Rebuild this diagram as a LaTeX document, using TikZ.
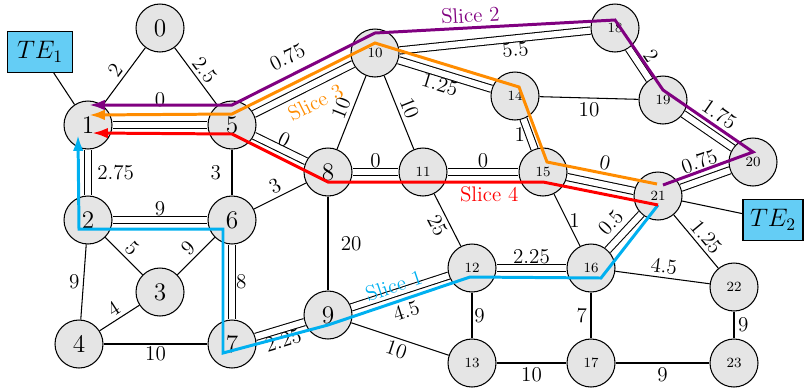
\documentclass[tikz,border=0pt]{standalone}
\usepackage{amsmath}
\usepackage{tikz}
\usetikzlibrary{arrows.meta,calc}
\usepackage{xcolor}

\definecolor{teblue}{RGB}{100,205,245}
\definecolor{sliceone}{RGB}{0,176,240}
\definecolor{slicetwo}{RGB}{128,0,128}
\definecolor{slicethree}{RGB}{255,140,0}
\definecolor{slicefour}{RGB}{255,0,0}

\begin{document}
\begin{tikzpicture}[x=0.02cm, y=-0.02cm,
    vtx/.style={circle, draw, line width=0.6pt, fill=gray!20, minimum size=0.96cm, inner sep=0pt, font=\Large},
    svtx/.style={vtx, font=\footnotesize},
    tebox/.style={draw, line width=0.6pt, fill=teblue, minimum width=1.3cm, minimum height=0.82cm, font=\Large},
    link/.style={line width=0.6pt},
    used/.style={line width=0.6pt, double, double distance=3.5pt},
    wt/.style={font=\large, inner sep=2pt},
    slice/.style={line width=1.7pt, -{Latex[length=9pt,width=6pt]}}]

    \useasboundingbox (0,0) rectangle (804,390);

    % Vertices
    \node[vtx] (v0) at (160,28) {0};
    \node[vtx] (v1) at (88,125) {1};
    \node[vtx] (v2) at (88,220) {2};
    \node[vtx] (v3) at (160,292) {3};
    \node[vtx] (v4) at (79,344) {4};
    \node[vtx] (v5) at (232,125) {5};
    \node[vtx] (v6) at (232,220) {6};
    \node[vtx] (v7) at (232,344) {7};
    \node[vtx] (v8) at (328,172) {8};
    \node[vtx] (v9) at (328,315) {9};
    \node[svtx] (v10) at (375,53) {10};
    \node[svtx] (v11) at (423,172) {11};
    \node[svtx] (v12) at (472,268) {12};
    \node[svtx] (v13) at (472,363) {13};
    \node[svtx] (v14) at (515,96) {14};
    \node[svtx] (v15) at (543,172) {15};
    \node[svtx] (v16) at (591,268) {16};
    \node[svtx] (v17) at (591,363) {17};
    \node[svtx] (v18) at (615,28) {18};
    \node[svtx] (v19) at (663,100) {19};
    \node[svtx] (v20) at (753,162) {20};
    \node[svtx] (v21) at (658,196) {21};
    \node[svtx] (v22) at (734,287) {22};
    \node[svtx] (v23) at (734,363) {23};

    % Terminal endpoints
    \node[tebox] (te1) at (40,52) {$TE_1$};
    \node[tebox, minimum width=1.2cm] (te2) at (773,220) {$TE_2$};
    \draw[link] (te1) -- (v1);
    \draw[link] (te2) -- (v21);

    % Links (left part)
    \draw[link] (v1) -- node[wt, sloped, above] {2} (v0);
    \draw[link] (v0) -- node[wt, sloped, above] {2.5} (v5);
    \draw[used] (v1) -- node[wt, above=8pt] {0} (v5);
    \draw[used] (v1) -- node[wt, right=3pt] {2.75} (v2);
    \draw[link] (v5) -- node[wt, left=4pt] {3} (v6);
    \draw[used] (v2) -- node[wt, above] {9} (v6);
    \draw[link] (v2) -- node[wt, sloped, above] {5} (v3);
    \draw[link] (v3) -- node[wt, sloped, above] {9} (v6);
    \draw[link] (v2) -- node[wt, left] {9} (v4);
    \draw[link] (v4) -- node[wt, sloped, above] {4} (v3);
    \draw[link] (v4) -- node[wt, below, inner sep=1pt] {10} (v7);
    \draw[used] (v6) -- node[wt, right] {8} (v7);
    \draw[link] (v6) -- node[wt, sloped, above] {3} (v8);
    \draw[used] (v7) -- node[wt, sloped, below] {2.25} (v9);

    % Links (middle part)
    \draw[used] (v5) -- node[wt, sloped, above=14pt] {0.75} (v10);
    \draw[used] (v5) -- node[wt, sloped, above, inner sep=1pt] {0} (v8);
    \draw[link] (v8) -- node[wt, sloped, above] {10} (v10);
    \draw[link] (v10) -- node[wt, sloped, above] {10} (v11);
    \draw[used] (v8) -- node[wt, above] {0} (v11);
    \draw[link] (v8) -- node[wt, right=5pt] {20} (v9);
    \draw[used] (v10) -- node[wt, sloped, below, pos=0.48] {1.25} (v14);
    \draw[used] (v10) -- node[wt, sloped, below, pos=0.6] {5.5} (v18);
    \draw[used] (v11) -- node[wt, above] {0} (v15);
    \draw[link] (v11) -- node[wt, sloped, below] {25} (v12);
    \draw[used] (v9) -- node[wt, sloped, below=5pt] {4.5} (v12);
    \draw[link] (v9) -- node[wt, sloped, below] {10} (v13);
    \draw[link] (v12) -- node[wt, right, inner sep=1pt] {9} (v13);
    \draw[used] (v12) -- node[wt, above] {2.25} (v16);
    \draw[link] (v13) -- node[wt, below] {10} (v17);

    % Links (right part)
    \draw[used] (v14) -- node[wt, left] {1} (v15);
    \draw[link] (v14) -- node[wt, below] {10} (v19);
    \draw[used] (v15) -- node[wt, sloped, above=6pt] {0} (v21);
    \draw[link] (v15) -- node[wt, right, inner sep=1pt] {1} (v16);
    \draw[used] (v18) -- node[wt, sloped, above=2pt] {2} (v19);
    \draw[used] (v19) -- node[wt, sloped, above=5pt] {1.75} (v20);
    \draw[used] (v21) -- node[wt, sloped, above=4pt] {0.75} (v20);
    \draw[used] (v16) -- node[wt, sloped, above=3pt, pos=0.45] {0.5} (v21);
    \draw[link] (v21) -- node[wt, sloped, above, pos=0.55] {1.25} (v22);
    \draw[link] (v16) -- node[wt, sloped, above] {4.5} (v22);
    \draw[link] (v16) -- node[wt, left] {7} (v17);
    \draw[link] (v22) -- node[wt, right] {9} (v23);
    \draw[link] (v17) -- node[wt, below] {9} (v23);

    % Slices from TE2 back to TE1
    \draw[slice, sliceone] ($(v21)+(0,9)$) -- ($(v16)+(10,10)$) -- ($(v12)+(-2,9)$)
        -- node[wt, sloped, above=2pt, text=sliceone] {Slice 1} ($(v9)+(0,10)$)
        -- ($(v7)+(-9,9)$) -- ($(v6)+(-9,9)$) -- ($(v2)+(-9,9)$) -- ($(v1)+(-10,10)$);
    \draw[slice, slicetwo] ($(v21)+(5,-11)$) -- ($(v20)+(0,-10)$) -- ($(v19)+(0,-10)$) -- ($(v18)+(0,-8)$)
        -- node[wt, sloped, above, pos=0.6, text=slicetwo] {Slice 2} ($(v10)+(0,-20)$)
        -- ($(v5)+(0,-20)$) -- ($(v1)+(1,-20)$);
    \draw[slice, slicethree] ($(v21)+(-1,-12)$) -- ($(v15)+(4,-10)$) -- ($(v14)+(4,-9)$) -- ($(v10)+(0,-10)$)
        -- node[wt, sloped, below=8pt, text=slicethree] {Slice 3} ($(v5)+(0,-11)$)
        -- ($(v1)+(1,-10)$);
    \draw[slice, slicefour] ($(v21)+(0,9)$) -- ($(v15)+(0,10)$)
        -- node[wt, below, pos=0.25, text=slicefour] {Slice 4} ($(v8)+(0,10)$)
        -- ($(v5)+(0,9)$) -- ($(v1)+(4,8)$);

\end{tikzpicture}
\end{document}
